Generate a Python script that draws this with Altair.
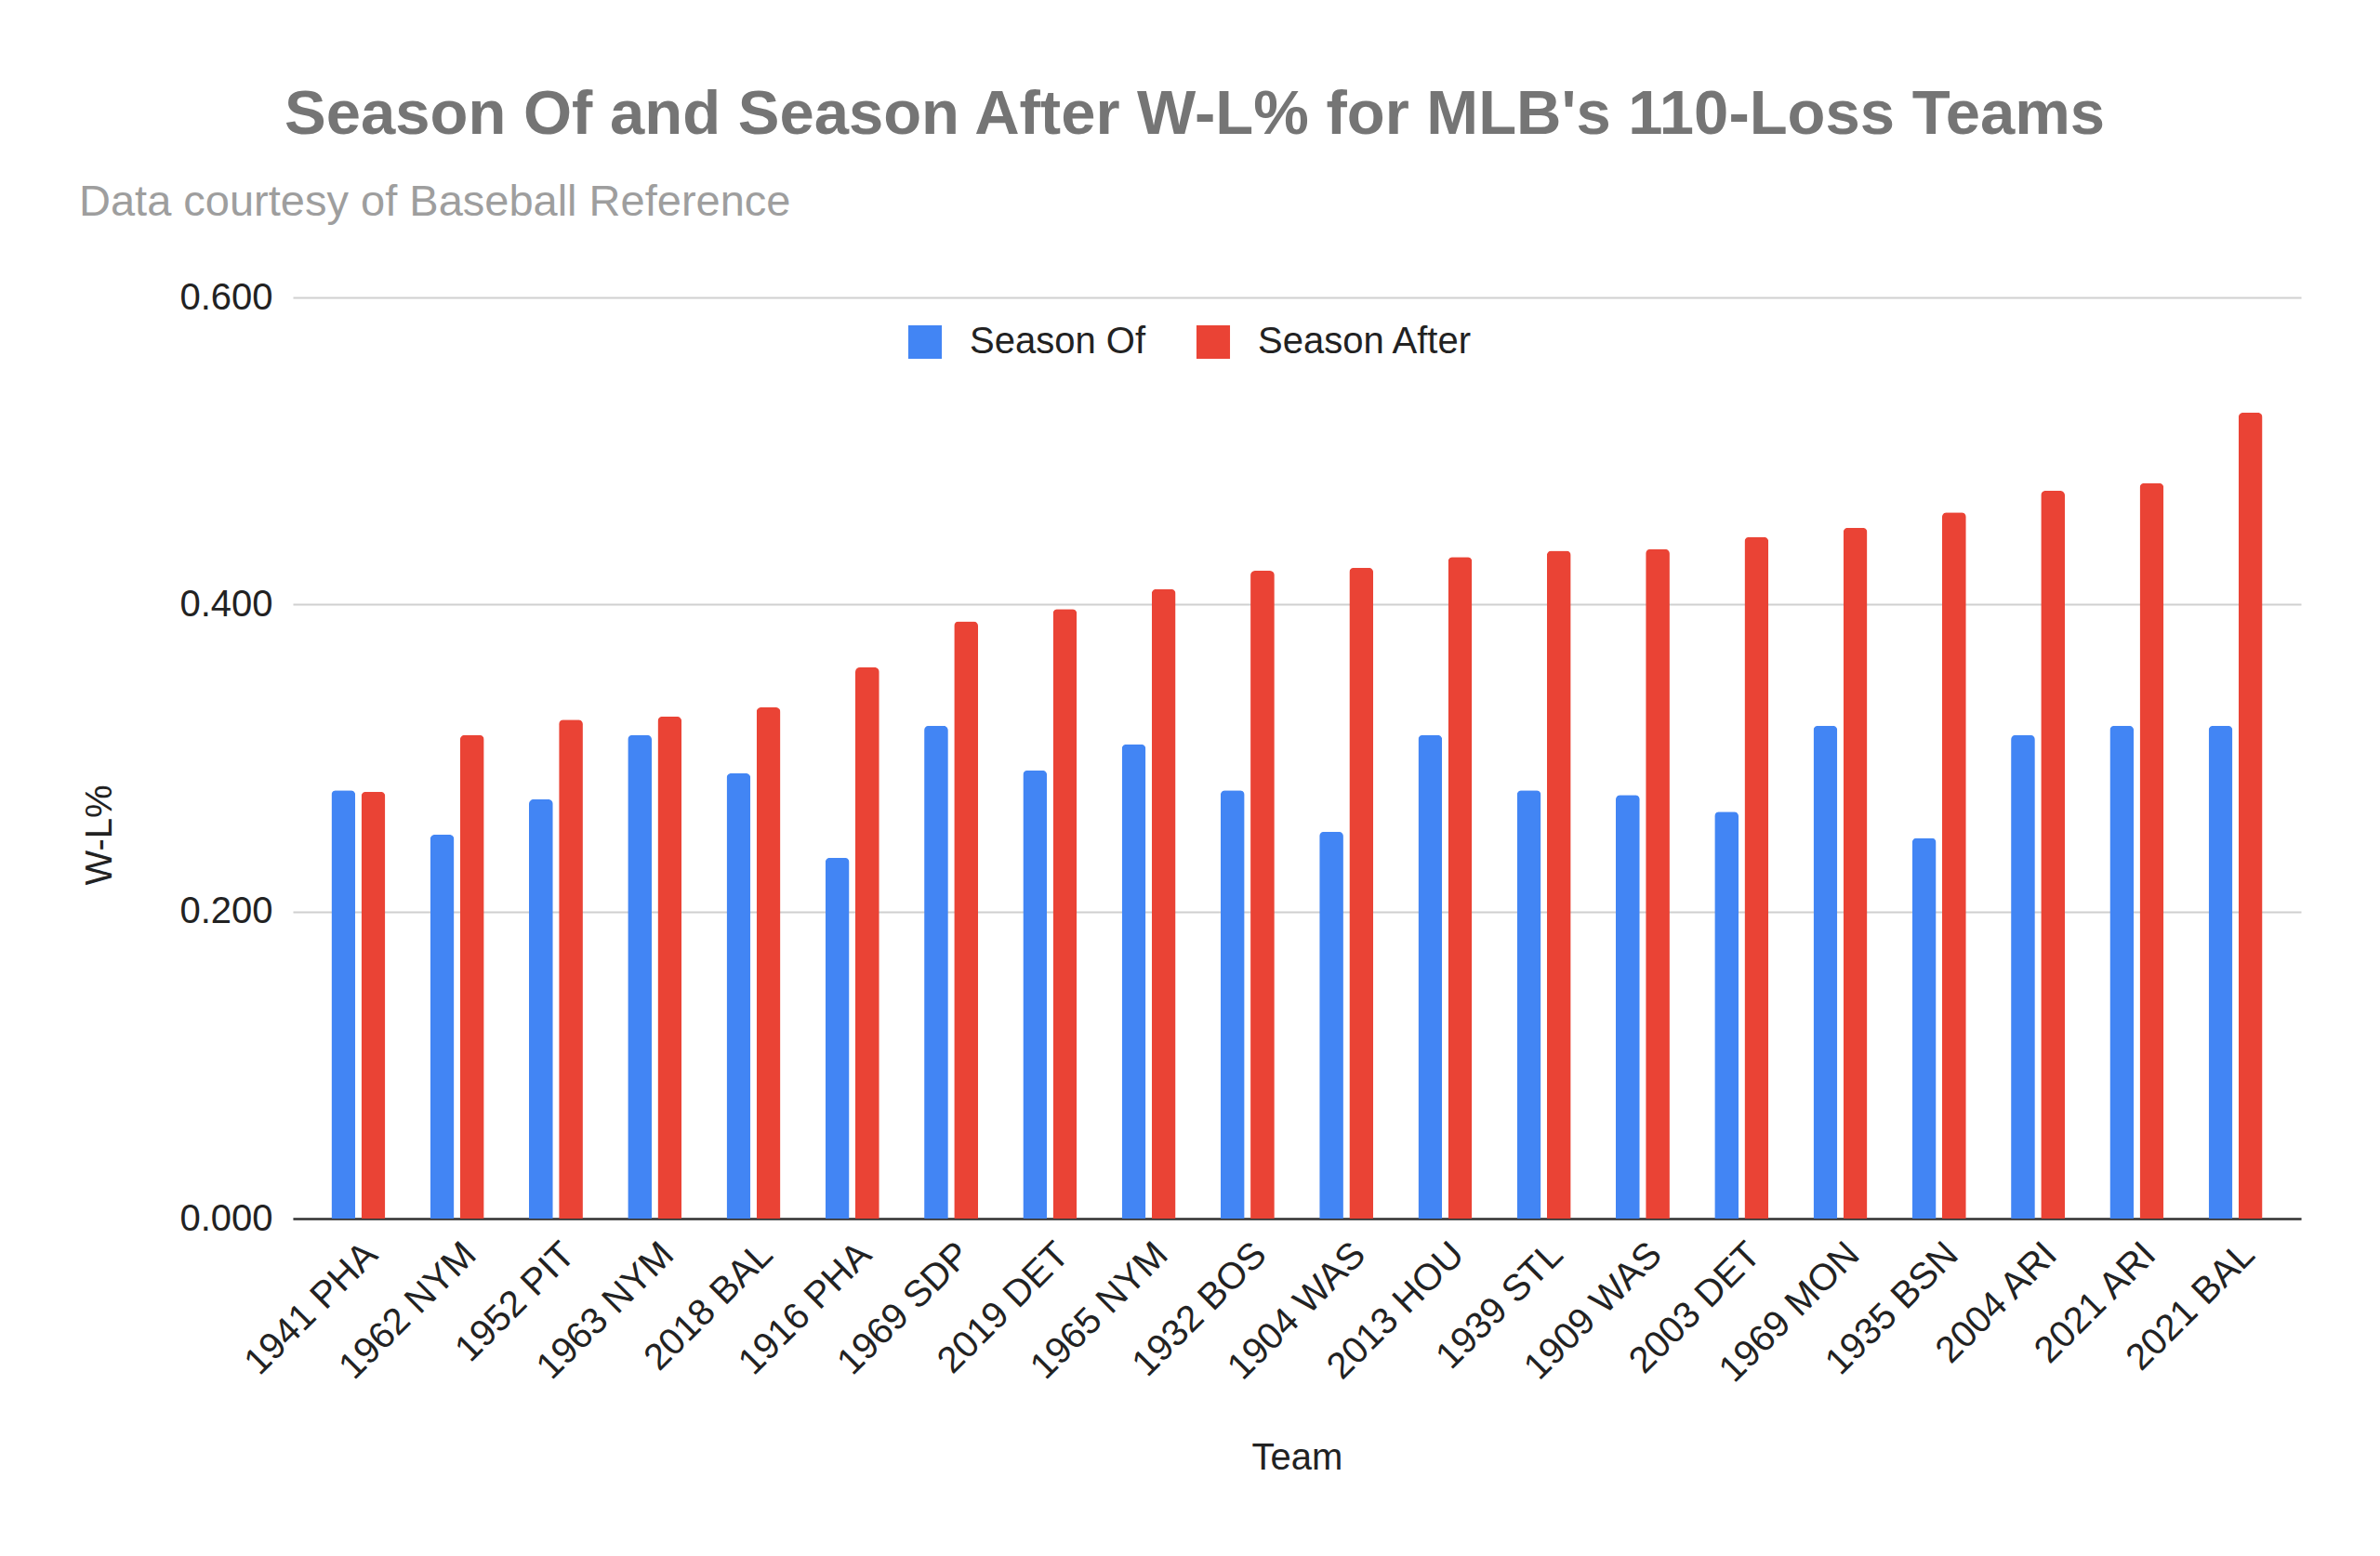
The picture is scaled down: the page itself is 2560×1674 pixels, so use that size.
import altair as alt
import pandas as pd

teams = ["1941 PHA", "1962 NYM", "1952 PIT", "1963 NYM", "2018 BAL", "1916 PHA",
         "1969 SDP", "2019 DET", "1965 NYM", "1932 BOS", "1904 WAS", "2013 HOU",
         "1939 STL", "1909 WAS", "2003 DET", "1969 MON", "1935 BSN", "2004 ARI",
         "2021 ARI", "2021 BAL"]
season_of = [0.279, 0.250, 0.273, 0.315, 0.290, 0.235, 0.321, 0.292, 0.309, 0.279,
             0.252, 0.315, 0.279, 0.276, 0.265, 0.321, 0.248, 0.315, 0.321, 0.321]
season_after = [0.278, 0.315, 0.325, 0.327, 0.333, 0.359, 0.389, 0.397, 0.410, 0.422,
                0.424, 0.431, 0.435, 0.436, 0.444, 0.450, 0.460, 0.474, 0.479, 0.525]
series = ["Season Of", "Season After"]
colors = ["#4285F4", "#EA4335"]
y_ticks = [0.0, 0.2, 0.4, 0.6]

rows = []
for t, a, b in zip(teams, season_of, season_after):
    rows.append({"Team": t, "Series": series[0], "W-L%": a})
    rows.append({"Team": t, "Series": series[1], "W-L%": b})
df = pd.DataFrame(rows)

FONT = "Arial, Liberation Sans, sans-serif"

bars = alt.Chart(df).mark_bar(cornerRadiusTopLeft=5, cornerRadiusTopRight=5).encode(
    x=alt.X("Team:N", sort=teams,
            scale=alt.Scale(paddingInner=0.455, paddingOuter=0.39),
            axis=alt.Axis(title="Team", labelAngle=315, labelFontSize=40,
                          labelColor="#222222", labelPadding=18, labelLimit=0,
                          titleFontSize=40, titleFontWeight="normal",
                          titleColor="#222222", titlePadding=54,
                          ticks=False, domainColor="#333333", domainWidth=2.5,
                          grid=False)),
    xOffset=alt.XOffset("Series:N", sort=series,
                        scale=alt.Scale(paddingInner=0.2, paddingOuter=0)),
    y=alt.Y("W-L%:Q", scale=alt.Scale(domain=[0, 0.6], nice=False),
            axis=alt.Axis(title="W-L%", values=y_ticks, format=".3f",
                          labelFontSize=40, labelColor="#222222", labelPadding=22,
                          titleFontSize=40, titleFontWeight="normal",
                          titleColor="#222222", titleAngle=270,
                          titleX=-208, titleY=578, titleAlign="center",
                          titleBaseline="middle",
                          ticks=False, domain=False, gridColor="#d0d0d0",
                          gridWidth=2)),
    color=alt.Color("Series:N", sort=series,
                    scale=alt.Scale(domain=series, range=colors),
                    legend=alt.Legend(title=None, orient="none", direction="horizontal",
                                      legendX=660, legendY=28, symbolType="square",
                                      symbolSize=1300, symbolStrokeWidth=0,
                                      labelFontSize=40, labelColor="#222222",
                                      labelLimit=0,
                                      labelOffset=28, columnPadding=52, padding=0)),
)

subtitle = alt.Chart(pd.DataFrame({"t": ["Data courtesy of Baseball Reference"]})).mark_text(
    align="left", baseline="alphabetic", fontSize=47, color="#9e9e9e", font=FONT
).encode(text="t:N", x=alt.value(-230), y=alt.value(-88))

chart = alt.layer(bars, subtitle).properties(
    width=2160, height=991,
    autosize=alt.AutoSizeParams(type="none"),
    padding={"left": 307, "top": 312, "right": 77, "bottom": 355},
    title=alt.TitleParams(text="Season Of and Season After W-L% for MLB's 110-Loss Teams",
                          fontSize=67, fontWeight="bold", color="#757575",
                          anchor="middle", dx=-110, offset=36, font=FONT),
).configure(font=FONT).configure_view(stroke=None)

chart.save("out.html", embed_options={"renderer": "svg", "actions": False})
